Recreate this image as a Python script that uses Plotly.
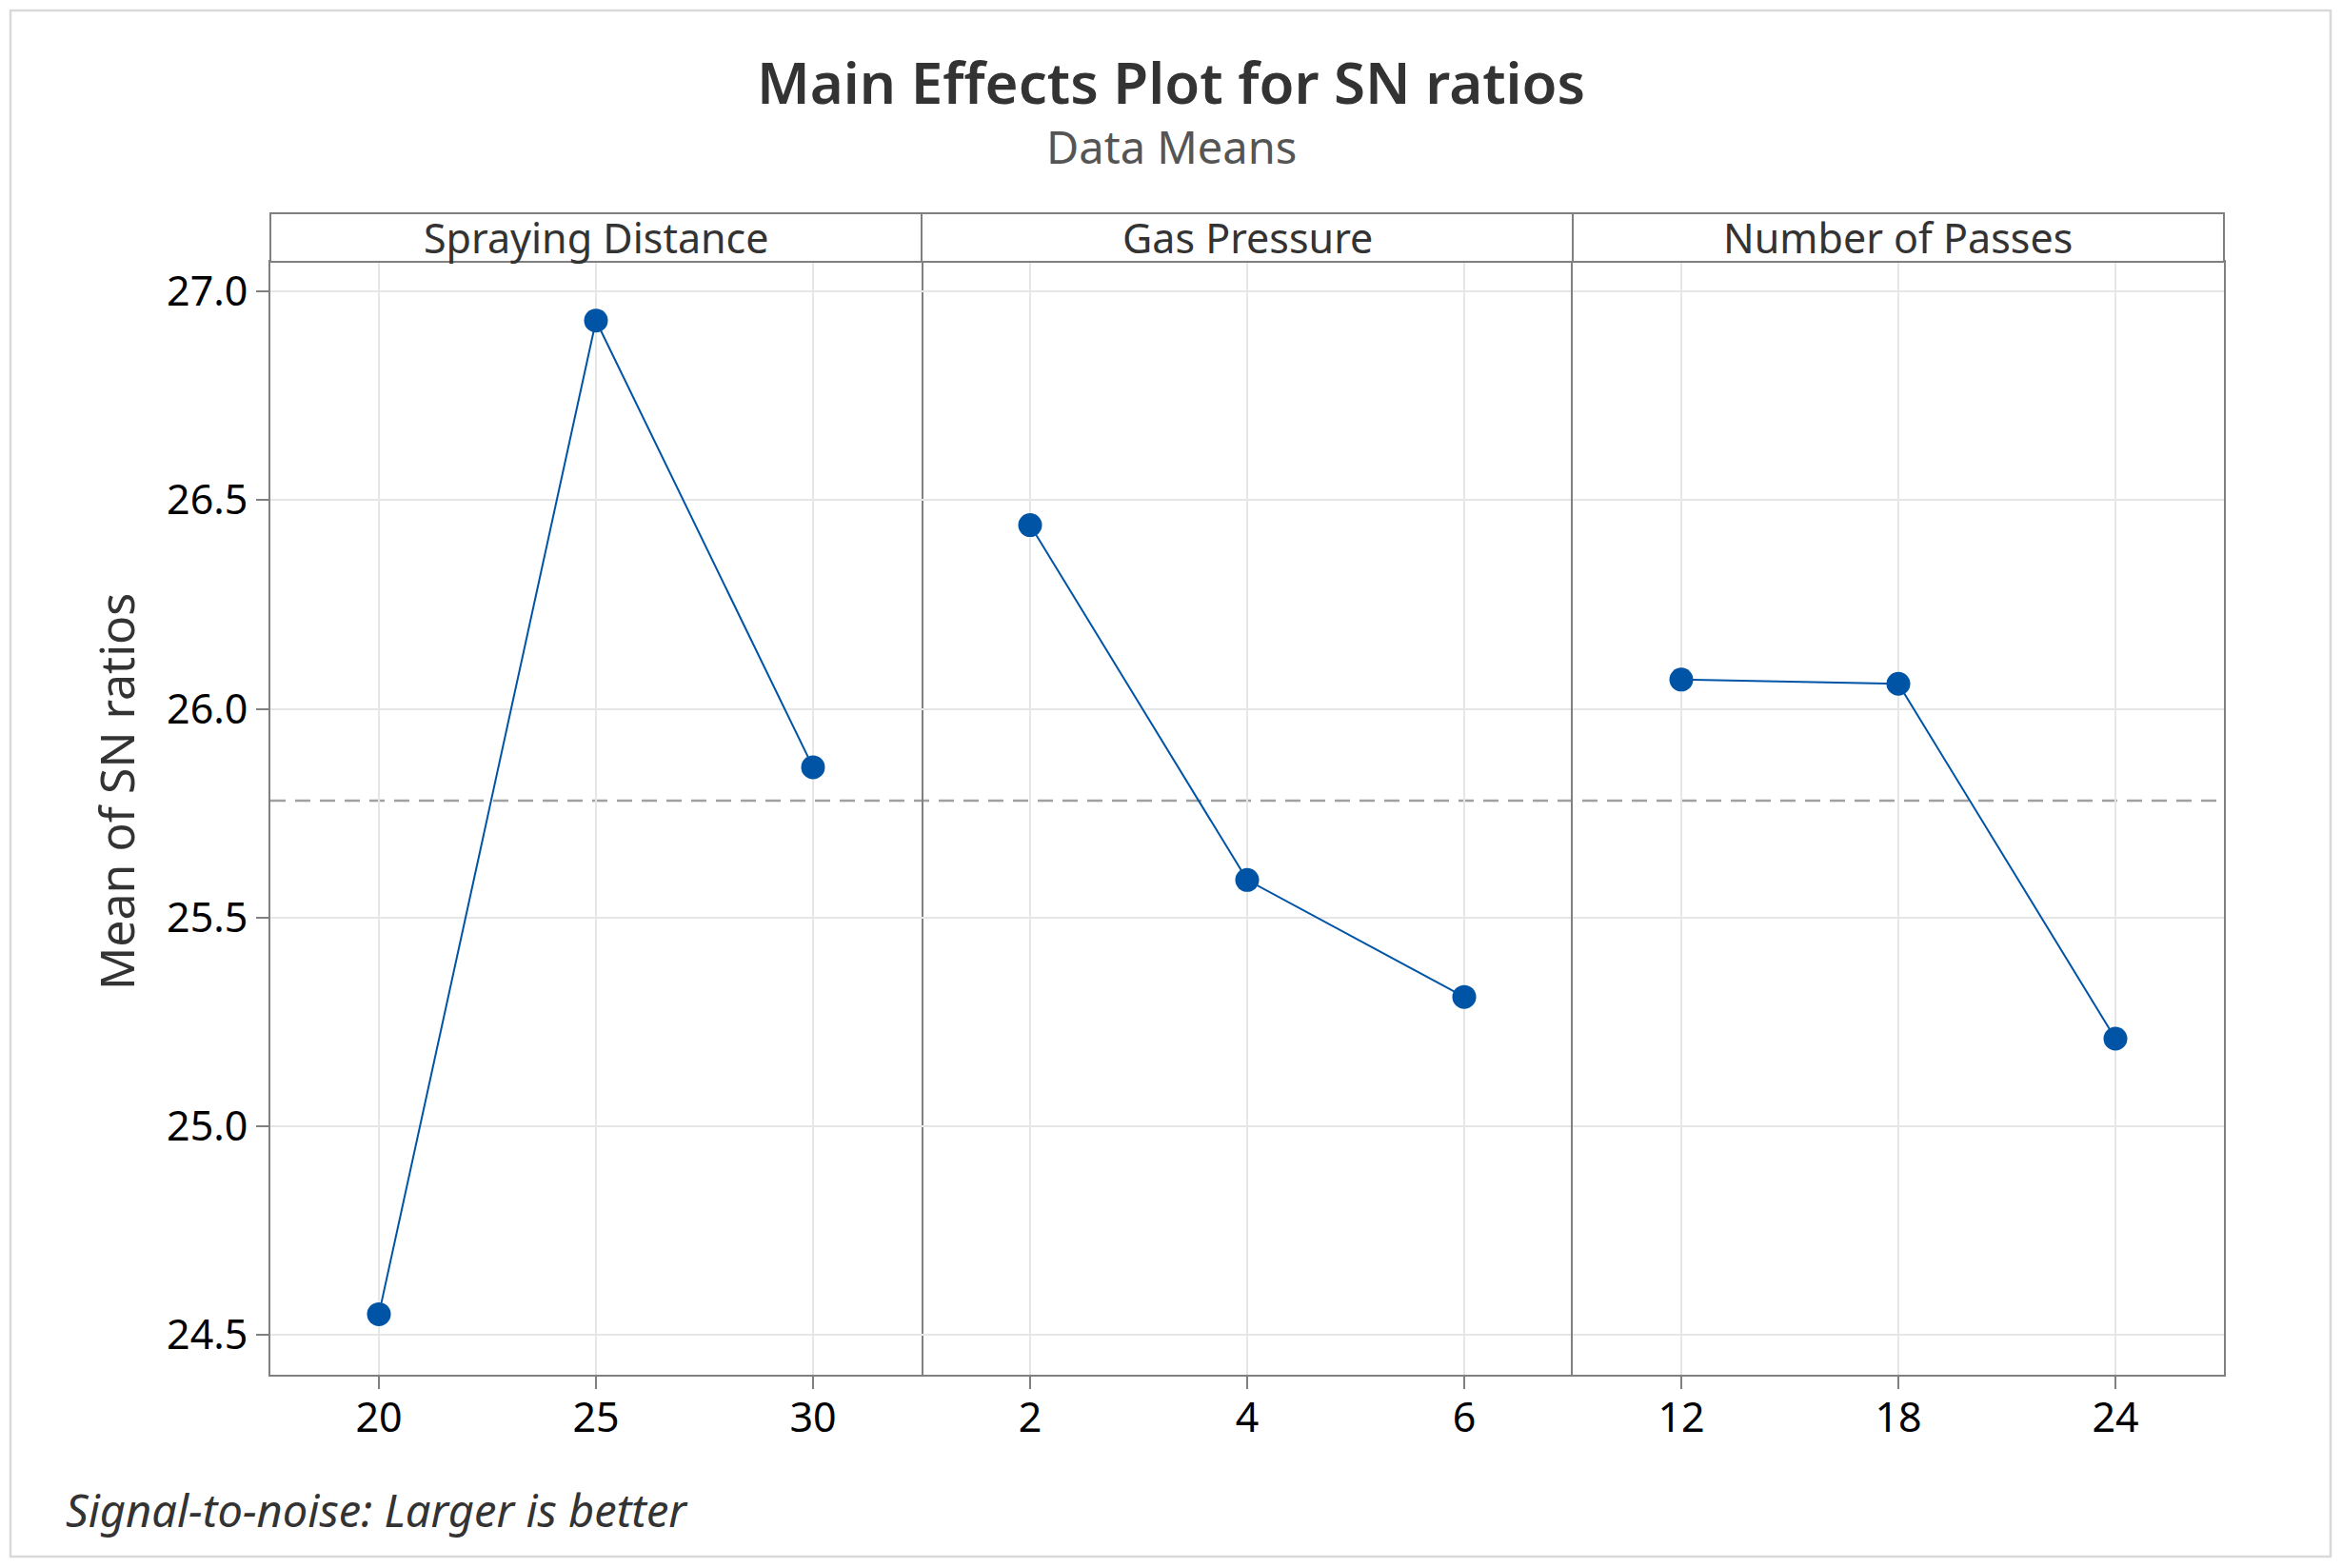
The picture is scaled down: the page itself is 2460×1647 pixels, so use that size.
import numpy as np
import plotly.graph_objects as go
from plotly.subplots import make_subplots

# ---------------- data ----------------
factors = ["Spraying Distance", "Gas Pressure", "Number of Passes"]
sd_levels = [20, 25, 30]
sd_means = [24.55, 26.93, 25.86]
gp_levels = [2, 4, 6]
gp_means = [26.44, 25.59, 25.31]
np_levels = [12, 18, 24]
np_means = [26.07, 26.06, 25.21]
y_ticks = [24.5, 25.0, 25.5, 26.0, 26.5, 27.0]
y_ticklabels = ["24.5", "25.0", "25.5", "26.0", "26.5", "27.0"]

title_text = "Main Effects Plot for SN ratios"
subtitle_text = "Data Means"
ytitle_text = "Mean of SN ratios"
footer_text = "Signal-to-noise: Larger is better"

levels = [sd_levels, gp_levels, np_levels]
means = [sd_means, gp_means, np_means]
grand_mean = float(np.mean(sd_means + gp_means + np_means))

# ---------------- layout constants ----------------
W, H = 2460, 1647
ML, MR, MT, MB = 284, 124, 275, 203
PW, PH = W - ML - MR, H - MT - MB
FONT = "Noto Sans"
BLUE = "#0054A6"
FRAME = "#808080"
GRID = "#E6E6E6"


def py(p):  # pixel y -> paper y
    return (H - MB - p) / PH


def px(p):  # pixel x -> paper x
    return (p - ML) / PW


x_ranges = [[17.5, 32.5], [1, 7], [9, 27]]

fig = make_subplots(rows=1, cols=3, shared_yaxes=True, horizontal_spacing=0)

for i in range(3):
    fig.add_trace(
        go.Scatter(
            x=levels[i], y=means[i], mode="lines+markers",
            line=dict(color=BLUE, width=2),
            marker=dict(color=BLUE, size=25),
            showlegend=False, cliponaxis=False, hoverinfo="skip",
        ),
        row=1, col=i + 1,
    )
    fig.update_xaxes(
        range=x_ranges[i], tickvals=levels[i], ticktext=[str(v) for v in levels[i]],
        showgrid=True, gridcolor=GRID, gridwidth=2,
        showline=True, linecolor=FRAME, linewidth=2, mirror=True,
        ticks="outside", ticklen=13, tickwidth=2, tickcolor=FRAME,
        ticklabelstandoff=-7,
        tickfont=dict(family=FONT, size=43, color="#000000"),
        zeroline=False, automargin=False,
        row=1, col=i + 1,
    )
    fig.update_yaxes(
        range=[24.405, 27.0707], tickvals=y_ticks,
        showgrid=True, gridcolor=GRID, gridwidth=2,
        showline=(i != 1), linecolor=FRAME, linewidth=2, mirror=True,
        zeroline=False, automargin=False,
        row=1, col=i + 1,
    )
    if i == 0:
        fig.update_yaxes(
            ticktext=y_ticklabels, ticks="outside", ticklen=13, tickwidth=2,
            tickcolor=FRAME, tickfont=dict(family=FONT, size=43, color="#000000"),
            row=1, col=1,
        )
    else:
        fig.update_yaxes(showticklabels=False, ticks="", row=1, col=i + 1)

shapes = []
annotations = []
# strips
for i in range(3):
    x0, x1 = i / 3, (i + 1) / 3
    shapes.append(dict(type="rect", xref="paper", yref="paper",
                       x0=x0, x1=x1, y0=1, y1=py(224),
                       line=dict(color=FRAME, width=2), fillcolor="white", layer="above"))
    annotations.append(dict(text=factors[i], xref="paper", yref="paper",
                            x=(x0 + x1) / 2, y=(1 + py(224)) / 2, showarrow=False,
                            xanchor="center", yanchor="middle",
                            font=dict(family=FONT, size=43, color="#333333")))

# reference line at grand mean
shapes.append(dict(type="line", xref="paper", yref="y", x0=0, x1=1,
                   y0=grand_mean, y1=grand_mean,
                   line=dict(color="#A0A0A0", width=2.5, dash="16px,10px"), layer="between"))

# outer frame
shapes.append(dict(type="rect", xref="paper", yref="paper",
                   x0=px(11), x1=px(2448), y0=py(1635), y1=py(11),
                   line=dict(color="#D9D9D9", width=2.5), layer="below"))

annotations += [
    dict(text=title_text, xref="paper", yref="paper", x=px(1230), y=py(86),
         showarrow=False, xanchor="center", yanchor="middle",
         font=dict(family=FONT, size=60, color="#333333", weight=600)),
    dict(text=subtitle_text, xref="paper", yref="paper", x=px(1230), y=py(154),
         showarrow=False, xanchor="center", yanchor="middle",
         font=dict(family=FONT, size=47, color="#555555")),
    dict(text=ytitle_text, xref="paper", yref="paper", x=px(122), y=py(832),
         showarrow=False, xanchor="center", yanchor="middle", textangle=-90,
         font=dict(family=FONT, size=50, color="#333333")),
    dict(text="<i>" + footer_text + "</i>", xref="paper", yref="paper", x=px(67), y=py(1586),
         showarrow=False, xanchor="left", yanchor="middle",
         font=dict(family=FONT, size=47, color="#333333")),
]

fig.update_layout(
    template="none",
    width=W, height=H,
    margin=dict(l=ML, r=MR, t=MT, b=MB, pad=0),
    paper_bgcolor="white", plot_bgcolor="white",
    shapes=shapes, annotations=annotations,
    showlegend=False,
)

fig.write_html("out.html", config={"displayModeBar": False},
               post_script="document.body.style.margin='0px';")
